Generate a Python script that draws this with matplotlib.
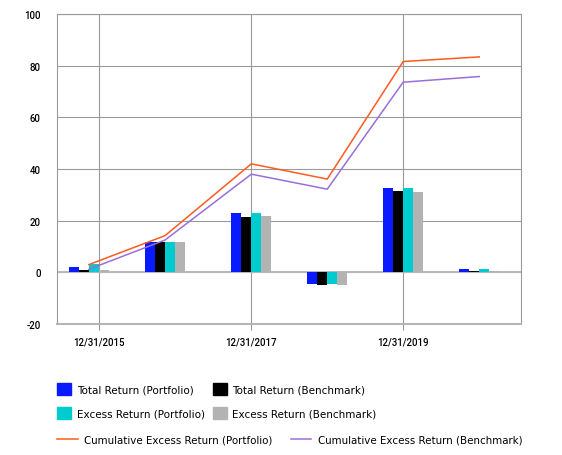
import numpy as np
import matplotlib
matplotlib.use("Agg")
import matplotlib.pyplot as plt
import matplotlib.dates as mdates
from matplotlib.patches import Patch
from matplotlib.lines import Line2D

plt.rcParams['font.family'] = ['DejaVu Sans']
plt.rcParams['axes.unicode_minus'] = False

# period end dates of each data point
dates = np.array(['2015-11-11', '2016-11-11', '2017-12-31', '2018-12-31',
                  '2019-12-31', '2020-12-31'], dtype='datetime64[D]')
total_port = [2.2, 11.8, 22.9, -4.4, 32.6, 1.1]
total_bench = [1.0, 11.6, 21.3, -4.8, 31.4, 0.5]
excess_port = [3.1, 11.8, 22.9, -4.4, 32.6, 1.1]
excess_bench = [1.0, 11.6, 21.7, -4.8, 31.0, 0.6]
cum_port = [3.0, 14.2, 42.0, 36.1, 81.6, 83.4]
cum_bench = [1.2, 12.5, 38.0, 32.2, 73.6, 75.8]

tick_dates = np.array(['2015-12-31', '2017-12-31', '2019-12-31'], dtype='datetime64[D]')
tick_labels = ['12/31/2015', '12/31/2017', '12/31/2019']

c_blue = '#0a1aff'
c_black = '#000000'
c_cyan = '#00cccf'
c_gray = '#b3b3b3'
c_orange = '#ff5a1f'
c_purple = '#9a6fd8'
grid_c = '#9a9a9a'

x = mdates.date2num(dates)
w = 48  # days

fig = plt.figure(figsize=(5.62, 4.56), dpi=100)
ax = fig.add_axes([57.3/562, 1-325/456, (521.3-57.3)/562, (325-15)/456])

series = [total_port, total_bench, excess_port, excess_bench]
colors = [c_blue, c_black, c_cyan, c_gray]
for i, (vals, col) in enumerate(zip(series, colors)):
    ax.bar(x + (i - 1.5)*w, vals, width=w, color=col, zorder=2)

ax.plot(x, cum_port, color=c_orange, lw=1.1, zorder=3)
ax.plot(x, cum_bench, color=c_purple, lw=1.1, zorder=3)

t0 = mdates.date2num(np.datetime64('2015-12-31'))
t1 = mdates.date2num(np.datetime64('2020-12-31'))
ax.set_xlim(t0 - 202, t1 + 202)
ax.set_ylim(-20, 100)
ax.set_yticks(range(-20, 101, 20))
ax.set_xticks(mdates.date2num(tick_dates))
ax.set_xticklabels(tick_labels)

ax.grid(True, color=grid_c, lw=0.8, zorder=0)
ax.set_axisbelow(True)
ax.axhline(0, color='#b8b8b8', lw=1.4, zorder=1)
for s in ax.spines.values():
    s.set_color(grid_c)
    s.set_linewidth(0.8)
ax.spines['bottom'].set_color('#b4b4b4')
ax.spines['bottom'].set_linewidth(1.5)
ax.tick_params(axis='y', length=0, pad=12, labelsize=6.9)
ax.tick_params(axis='x', length=4, color=grid_c, width=0.8, pad=5, labelsize=6.9)
for lab in ax.get_xticklabels() + ax.get_yticklabels():
    lab.set_family(['Roboto', 'DejaVu Sans'])
    lab.set_fontweight('medium')

# legends below the plot
h1 = [Patch(color=c) for c in colors]
l1 = ['Total Return (Portfolio)', 'Total Return (Benchmark)',
      'Excess Return (Portfolio)', 'Excess Return (Benchmark)']
order = [0, 2, 1, 3]
fig.legend([h1[i] for i in order], [l1[i] for i in order], ncol=2,
           loc='upper left', bbox_to_anchor=(53/562, 1-380/456), borderaxespad=0,
           frameon=False, fontsize=7.5, handlelength=1.34, handleheight=1.34,
           handletextpad=0.55, columnspacing=0.75, labelspacing=1.2)
h2 = [Line2D([], [], color=c_orange, lw=1.1), Line2D([], [], color=c_purple, lw=1.1)]
l2 = ['Cumulative Excess Return (Portfolio)', 'Cumulative Excess Return (Benchmark)']
fig.legend(h2, l2, ncol=2, loc='upper left', bbox_to_anchor=(53/562, 1-431/456),
           borderaxespad=0, frameon=False, fontsize=7.35, handlelength=2.0,
           handletextpad=0.68, columnspacing=1.75)

fig.savefig('out.png', dpi=100)
